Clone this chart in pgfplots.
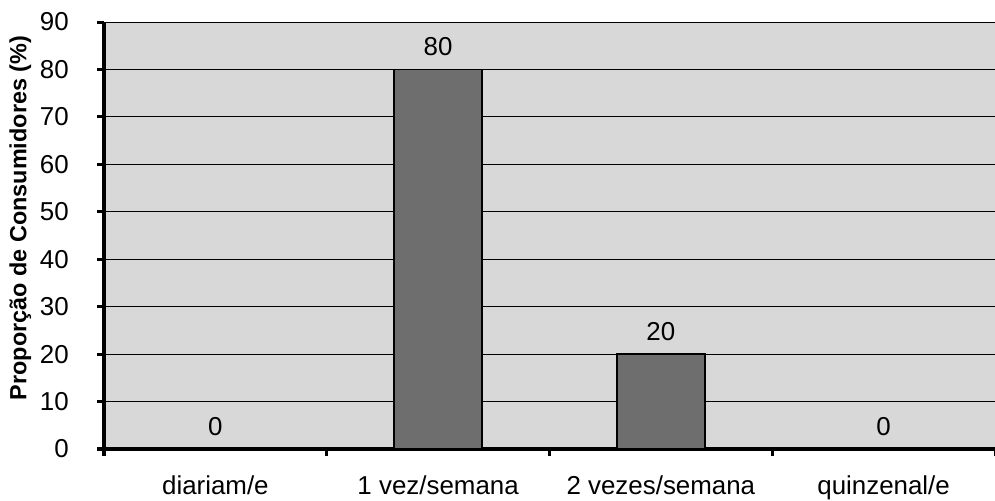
\documentclass[border=0pt]{standalone}
\usepackage{pgfplots}
\pgfplotsset{compat=1.18}
\usepackage{fontspec}
\setmainfont{Liberation Sans}
\definecolor{bgc}{RGB}{216,216,216}
\definecolor{barc}{RGB}{110,110,110}
\begin{document}
\begin{tikzpicture}
\path[use as bounding box] (0,0) rectangle (995bp,501bp);
\begin{axis}[
  at={(104bp,52bp)}, anchor=south west, scale only axis,
  width=891bp, height=427bp,
  xmin=0, xmax=4, ymin=0, ymax=90,
  axis lines*=left,
  axis line style={line width=3.5bp, black},
  axis background/.style={fill=bgc},
  /pgf/number format/assume math mode=true,
  ytick={0,10,...,90},
  xtick={0,1,2,3,4},
  xticklabels={,,,,},
  extra x ticks={0.5,1.5,2.5,3.5},
  extra x tick labels={diariam/e, 1 vez/semana, 2 vezes/semana, quinzenal/e},
  extra x tick style={major tick length=0pt, tick label style={anchor=base, yshift=-45bp, inner sep=0pt}},
  tick align=outside,
  major tick length=7bp,
  tick style={black, line width=3bp},
  tick label style={font=\fontsize{26}{27}\selectfont},
  yticklabel style={inner sep=0pt, xshift=-28bp},
  ymajorgrids,
  grid style={black, line width=0.8bp},
  ylabel={Proporção de Consumidores (\%)},
  ylabel style={font=\bfseries\fontsize{23.5}{24}\selectfont, at={(axis description cs:-0.094,0.541)}, anchor=center},
]
\addplot[ybar, bar width=88bp, fill=barc, draw=black, line width=1.5bp,
  nodes near coords,
  every node near coord/.append style={font=\fontsize{26}{27}\selectfont, anchor=base, yshift=14bp, inner sep=0pt, black}]
  coordinates {(0.5,0) (1.5,80) (2.5,20) (3.5,0)};
\end{axis}
\end{tikzpicture}
\end{document}
